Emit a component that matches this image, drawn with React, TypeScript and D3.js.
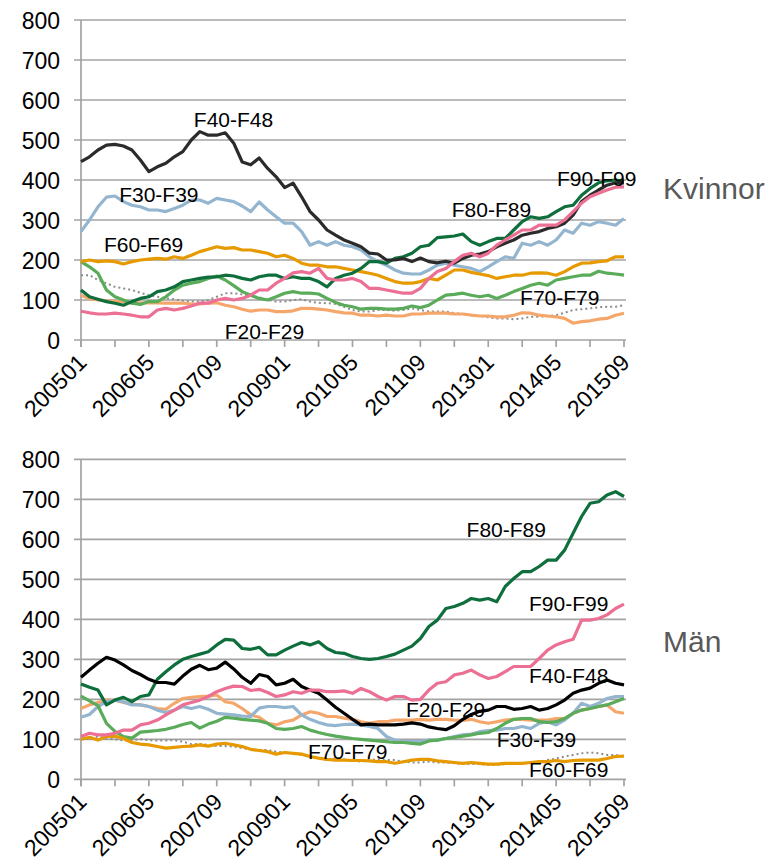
import React, { useEffect, useRef } from 'react';
import * as d3 from 'd3';

// month index 0 = 200501, values every second month up to 201509 (index 128)
const sampleMonths = d3.range(0, 129, 2);
const tickMonths = [0, 16, 32, 48, 64, 80, 96, 112, 128];
const tickLabels = ['200501', '200605', '200709', '200901', '201005', '201109', '201301', '201405', '201509'];
const minorTickMonths = d3.range(0, 129, 8);
const yTicks = [0, 100, 200, 300, 400, 500, 600, 700, 800];

// ---- Kvinnor ----
const kvF2029 = [112,104,100,98,96,96,93,93,93,93,92,92,92,90,90,92,93,87,83,77,72,75,
  75,71,71,73,79,79,77,75,71,68,67,62,62,60,62,60,60,65,65,67,
  67,67,65,65,62,60,60,58,58,62,68,67,62,60,58,54,42,46,48,52,54,62,67];
const kvF3039 = [271,300,333,357,360,346,337,333,325,325,321,329,337,350,350,342,354,350,346,335,321,345,
  325,308,292,292,271,237,246,237,246,237,233,225,208,196,187,175,167,165,165,175,
  187,192,187,183,179,171,183,196,208,204,242,237,246,237,250,275,267,292,287,296,292,287,304];
const kvF4048 = [446,458,475,487,489,485,475,450,421,433,442,458,471,500,521,512,512,518,492,445,438,455,
  429,408,381,392,358,321,300,275,262,250,242,233,217,215,200,200,204,196,205,196,
  193,197,192,204,212,215,221,233,242,250,262,267,271,279,283,292,312,346,362,375,387,393,393];
const kvF6069 = [196,200,196,198,196,190,196,200,202,204,202,208,204,212,221,227,233,229,231,225,225,221,
  217,208,212,204,192,187,187,183,183,179,175,171,167,162,154,146,142,142,146,154,
  150,162,175,175,169,165,161,154,158,162,162,167,168,167,162,171,183,192,193,196,198,208,208];
const kvF7079 = [196,183,167,125,108,100,92,89,96,96,108,125,137,142,146,154,160,150,136,121,112,104,
  100,108,117,121,117,117,115,104,94,87,83,77,79,79,77,77,79,85,81,87,
  100,112,114,117,112,108,112,104,112,121,129,137,142,137,150,154,158,162,162,172,167,165,162];
const kvF8089 = [125,108,102,96,92,87,96,104,108,121,125,133,146,150,154,157,158,162,160,154,150,158,
  162,162,154,158,154,154,146,133,154,162,167,179,196,196,192,204,208,217,233,237,
  256,258,260,265,246,237,246,254,254,275,296,308,304,308,321,333,337,362,379,393,398,400,397];
const kvF9099 = [72,68,65,65,67,65,62,58,58,75,79,75,79,85,92,92,100,104,100,104,112,125,
  125,142,154,168,171,167,179,154,150,150,154,146,129,129,125,121,117,117,129,154,
  171,179,196,212,217,208,217,237,250,262,275,275,287,287,287,300,321,342,358,367,375,382,383];
const kvOther = [162,162,150,142,133,129,125,118,112,108,104,102,98,96,96,100,108,117,117,114,110,107,
  100,96,96,100,102,96,93,92,90,83,75,71,71,75,75,73,75,79,75,71,
  71,71,67,65,62,60,57,54,54,52,54,58,58,60,62,68,75,77,79,82,83,83,87];

// ---- Män ----
const maF2029 = [177,186,192,198,198,192,188,186,182,177,175,190,202,205,207,208,211,194,190,177,161,155,
  140,136,144,148,161,169,165,157,157,153,150,144,140,144,144,148,148,148,150,148,
  150,150,148,147,150,144,140,144,148,150,150,148,148,148,152,152,165,173,177,182,186,169,165];
const maF3039 = [155,162,182,194,198,194,186,186,182,173,167,173,182,177,182,175,165,163,161,158,157,178,
  182,182,179,182,161,150,142,136,134,137,138,136,132,127,107,98,94,94,94,98,
  98,102,107,111,113,119,122,123,127,127,132,127,140,144,136,148,165,190,182,190,202,207,207];
const maF4048 = [255,273,290,305,298,286,272,262,250,242,242,238,258,275,285,274,278,293,276,255,240,262,
  257,236,240,250,232,223,215,198,180,165,150,136,138,136,136,136,138,141,138,131,
  127,124,134,150,162,170,173,182,182,175,177,182,173,177,186,198,215,223,228,240,248,240,236];
const maF6069 = [100,105,98,107,108,102,92,88,86,82,78,80,82,83,86,83,88,90,86,82,75,72,
  69,63,67,65,63,57,53,50,48,48,47,47,46,44,44,40,44,48,50,50,
  46,44,42,40,42,40,38,38,40,40,40,42,44,44,47,44,47,48,48,48,52,57,58];
const maF7079 = [208,196,184,140,120,107,103,118,120,122,125,130,137,142,128,138,145,155,153,150,148,146,
  140,127,125,127,132,123,117,112,108,105,102,100,98,96,94,92,92,90,88,96,
  98,102,105,108,111,115,117,127,140,150,152,152,144,142,144,152,165,173,177,182,186,194,202];
const maF8089 = [238,230,223,186,198,205,194,207,211,250,269,286,300,307,313,319,336,350,348,327,325,330,
  311,311,323,333,342,336,344,327,317,315,307,302,300,302,307,313,323,333,352,382,
  398,427,432,440,452,448,452,444,482,502,519,519,532,548,548,573,615,657,690,694,711,719,707];
const maF9099 = [107,115,111,111,115,123,123,136,140,148,161,173,186,192,198,207,219,227,233,232,222,225,
  217,207,211,219,215,223,223,219,219,221,215,227,219,207,198,207,207,198,200,223,
  240,244,261,265,273,261,252,257,269,282,282,282,302,323,336,344,350,398,398,402,411,427,438];
const maOther = [100,102,107,102,100,97,98,100,98,97,97,98,94,88,88,86,83,83,82,78,75,73,
  73,69,67,65,61,57,53,48,53,50,47,44,48,50,48,48,44,42,42,44,
  42,42,40,38,38,38,36,36,38,38,40,42,44,48,52,57,61,65,67,65,61,61,57];

const colors: Record<string, string> = {
  F2029: '#F5A66B',
  F3039: '#93B5CF',
  F4048: '#2B2B2B',
  F6069: '#E69A00',
  F7079: '#5AAB5A',
  F8089: '#0E6E3C',
  F9099: '#EC6F94',
  other: '#8C8C8C',
};

// label anchors in data coordinates: [name, month, value]
const kvLabels: [string, number, number][] = [
  ['F40-F48', 26.6, 532], ['F30-F39', 9, 346], ['F60-F69', 5.4, 221], ['F20-F29', 33.9, 3],
  ['F80-F89', 87.4, 307], ['F90-F99', 112.2, 385], ['F70-F79', 103.5, 88],
];
const maLabels: [string, number, number][] = [
  ['F80-F89', 90.9, 606], ['F90-F99', 105.6, 421], ['F40-F48', 105.6, 240], ['F20-F29', 76.6, 156],
  ['F30-F39', 98, 81], ['F70-F79', 53.5, 51], ['F60-F69', 105.6, 6],
];

const FONT = 'Liberation Sans, Arial, sans-serif';

export default function App() {
  const ref = useRef<SVGSVGElement>(null);

  useEffect(() => {
    const svg = d3.select(ref.current);
    svg.selectAll('*').remove();

    const x = d3.scaleLinear().domain([0, 128]).range([81, 624]);

    const drawPanel = (top: number, bottom: number, series: [string, number[]][], labels: [string, number, number][], title: string, titleY: number, blackColor: string) => {
      const y = d3.scaleLinear().domain([0, 800]).range([bottom, top]);
      const g = svg.append('g');

      // gridlines + ticks
      g.selectAll('line.grid').data(yTicks).join('line')
        .attr('x1', 74).attr('x2', 626)
        .attr('y1', d => y(d)).attr('y2', d => y(d))
        .attr('stroke', '#A3A3A3').attr('stroke-width', 1.7);
      g.append('line').attr('x1', 81).attr('x2', 81).attr('y1', top).attr('y2', bottom + 7)
        .attr('stroke', '#A3A3A3').attr('stroke-width', 1.7);
      g.selectAll('line.xt').data(minorTickMonths).join('line')
        .attr('x1', d => x(d)).attr('x2', d => x(d))
        .attr('y1', bottom).attr('y2', bottom + 7)
        .attr('stroke', '#A3A3A3').attr('stroke-width', 1.7);

      g.selectAll('text.yt').data(yTicks).join('text')
        .attr('x', 60).attr('y', d => y(d) + 8.5)
        .attr('text-anchor', 'end')
        .attr('font-family', FONT).attr('font-size', 23).attr('fill', '#000')
        .text(d => d);

      g.selectAll('text.xt').data(tickMonths).join('text')
        .attr('text-anchor', 'end')
        .attr('transform', d => `translate(${x(d) + 7},${bottom + 24}) rotate(-45)`)
        .attr('font-family', FONT).attr('font-size', 23).attr('fill', '#000')
        .text((d, i) => tickLabels[i]);

      const line = d3.line<number>()
        .x((d, i) => x(sampleMonths[i]))
        .y(d => y(d));

      series.forEach(([key, vals]) => {
        const dotted = key === 'other';
        g.append('path')
          .attr('d', line(vals) as string)
          .attr('fill', 'none')
          .attr('stroke', key === 'F4048' ? blackColor : colors[key])
          .attr('stroke-width', dotted ? 2 : 3.2)
          .attr('stroke-dasharray', dotted ? '2,3' : null)
          .attr('stroke-linejoin', 'round');
      });

      g.selectAll('text.lbl').data(labels).join('text')
        .attr('x', d => x(d[1])).attr('y', d => y(d[2]))
        .attr('font-family', FONT).attr('font-size', 21).attr('fill', '#000')
        .text(d => d[0]);

      g.append('text')
        .attr('x', 663).attr('y', titleY)
        .attr('dominant-baseline', 'central')
        .attr('font-family', FONT).attr('font-size', 30).attr('fill', '#595959')
        .text(title);
    };

    drawPanel(20, 340, [
      ['other', kvOther], ['F2029', kvF2029], ['F3039', kvF3039], ['F7079', kvF7079],
      ['F6069', kvF6069], ['F8089', kvF8089], ['F4048', kvF4048], ['F9099', kvF9099],
    ], kvLabels, 'Kvinnor', 188, '#2B2B2B');

    drawPanel(459.3, 779.3, [
      ['other', maOther], ['F2029', maF2029], ['F3039', maF3039], ['F7079', maF7079],
      ['F6069', maF6069], ['F8089', maF8089], ['F4048', maF4048], ['F9099', maF9099],
    ], maLabels, 'Män', 641, '#000000');
  }, []);

  return (
    <svg ref={ref} width={775} height={861}
      style={{ position: 'absolute', left: 0, top: 0, background: '#fff' }} />
  );
}
